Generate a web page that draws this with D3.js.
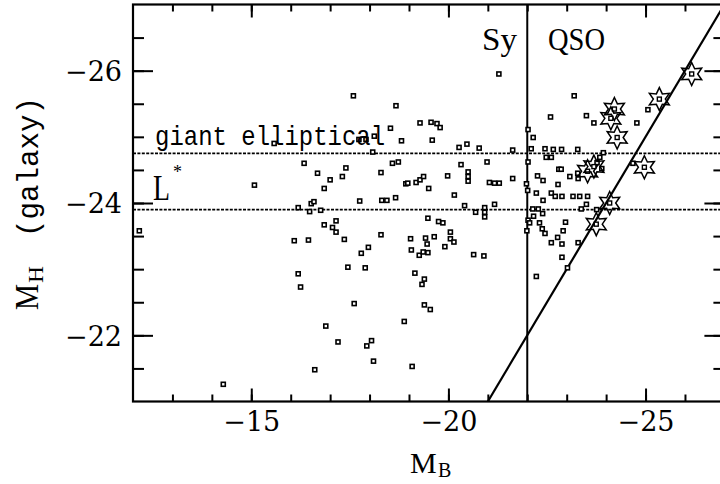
<!DOCTYPE html>
<html>
<head>
<meta charset="utf-8">
<script src="https://cdn.jsdelivr.net/npm/d3@7"></script>
<style>
  html, body { margin: 0; padding: 0; background: #fff; }
  svg { display: block; }
</style>
</head>
<body>
<svg id="chart" width="720" height="484"></svg>
<script>
// Host galaxy H-band magnitude against nuclear B magnitude
const galaxyMB = [
  -12.16, -14.29, -15.08, -15.58, -16.09, -16.19, -16.19, -16.25, -16.34, -16.45,
  -16.48, -16.52, -16.59, -16.61, -16.68, -16.76, -16.85, -16.85, -16.89, -17.00,
  -17.06, -17.15, -17.15, -17.20, -17.31, -17.40, -17.36, -17.45, -17.59, -17.61,
  -17.75, -17.73, -17.91, -18.12, -17.79, -17.97, -17.89, -18.05, -17.93, -18.10,
  -18.08, -18.29, -18.31, -18.44, -18.29, -18.53, -18.67, -18.58, -18.73, -18.66,
  -18.81, -18.88, -18.92, -18.97, -19.04, -19.06, -19.08, -19.15, -19.18, -19.28,
  -19.37, -19.26, -19.36, -19.48, -19.28, -19.39, -19.33, -19.39, -19.54, -19.42,
  -19.46, -19.50, -19.48, -19.56, -19.59, -19.64, -19.71, -19.79, -19.75, -19.86,
  -19.91, -19.98, -20.05, -20.05, -20.14, -20.15, -20.27, -20.32, -20.41, -20.47,
  -20.50, -20.50, -20.50, -20.64, -20.69, -20.78, -20.90, -20.92, -20.92, -20.92,
  -20.98, -21.04, -21.17, -21.29, -21.17, -21.28, -21.63, -21.63,
  -22.02, -22.15, -22.10, -22.02, -21.98, -22.01, -22.02, -21.99,
  -22.45, -22.66, -22.87, -23.28, -22.48, -22.61, -22.59, -23.19, -23.50, -23.69,
  -24.78, -25.06, -22.80, -22.86, -22.26, -22.40, -22.78, -23.08, -23.28, -23.29,
  -22.23, -22.61, -22.71, -22.88, -23.16, -23.33, -23.53, -22.40, -23.50, -23.37,
  -23.76, -22.14, -22.28, -22.16, -22.39, -22.06, -22.31, -22.38, -22.45, -22.97,
  -22.91, -22.77, -22.61, -22.88, -23.29, -22.88, -23.02, -22.23, -23.93, -23.84,
  -23.77, -23.89, -24.68
];
const galaxyMH = [
  -23.58, -21.26, -24.27, -24.90, -23.43, -23.93, -22.93, -22.73, -24.60, -23.44,
  -23.87, -23.99, -24.02, -21.48, -24.45, -23.89, -24.22, -23.67, -22.14, -24.35,
  -23.63, -23.56, -23.73, -21.90, -24.40, -24.53, -23.45, -23.03, -25.62, -22.48,
  -24.03, -24.96, -24.96, -25.01, -23.24, -23.33, -23.02, -21.92, -21.84, -21.61,
  -24.77, -24.46, -24.04, -24.04, -23.52, -25.13, -25.47, -24.60, -24.62, -24.08,
  -24.94, -22.21, -24.29, -24.30, -23.46, -23.29, -21.53, -22.94, -24.31, -24.35,
  -24.40, -23.21, -23.26, -23.25, -25.21, -22.85, -22.77, -22.46, -22.39, -23.47,
  -23.38, -24.22, -23.77, -25.22, -24.95, -23.49, -25.20, -25.14, -23.72, -23.70,
  -23.34, -24.41, -23.56, -23.46, -23.41, -24.12, -24.84, -24.58, -23.96, -24.89,
  -24.47, -24.40, -24.33, -23.22, -23.86, -24.83, -23.20, -23.93, -23.86, -23.79,
  -24.62, -24.31, -24.30, -24.30, -23.98, -25.95, -24.80, -24.37,
  -25.11, -24.99, -24.82, -24.62, -24.29, -24.19, -23.74, -23.58,
  -24.82, -24.81, -24.81, -24.81, -24.69, -24.69, -25.30, -25.62, -25.32, -25.21,
  -25.21, -25.41, -24.51, -24.51, -24.41, -24.34, -24.28, -24.40, -24.45, -24.37,
  -24.15, -24.15, -24.10, -24.10, -24.10, -24.10, -24.10, -24.04, -23.98, -23.91,
  -23.90, -23.91, -23.91, -23.80, -23.84, -23.70, -23.70, -23.61, -23.54, -23.71,
  -23.58, -23.48, -23.40, -23.38, -23.40, -23.18, -23.02, -22.89, -24.76, -24.69,
  -24.61, -24.52, -24.60
];

// Luminous quasars (star symbols)
const qsoMB = [-26.17, -25.35, -24.21, -24.12, -24.28, -23.53, -23.69, -24.97, -24.09, -23.75];
const qsoMH = [-25.95, -25.57, -25.42, -25.28, -24.99, -24.48, -24.55, -24.54, -24.00, -23.68];

// Reference levels
const giantEllipticalMH = -24.75;
const lStarMH = -23.9;
const seyfertQsoMB = -22;
const equalityLine = [-21, -27];

// Axis ticks
const xMinorTicks = [-13, -14, -15, -16, -17, -18, -19, -20, -21, -22, -23, -24, -25, -26];
const xMajorTicks = [-15, -20, -25];
const yMinorTicks = [-26.5, -26, -25.5, -25, -24.5, -24, -23.5, -23, -22.5, -22, -21.5];
const yMajorTicks = [-26, -24, -22];

const svg = d3.select("#chart");
const plotL = 133, plotR = 724.4, plotT = 4.5, plotB = 401.5;

const x = d3.scaleLinear().domain([-12, -27]).range([plotL, plotR]);
const y = d3.scaleLinear().domain([-27, -21]).range([plotT, plotB]);

const serif = "'Liberation Serif', 'Times New Roman', serif";
const digitFont = "'DejaVu Serif', serif";
const mono = "'Liberation Mono', 'Courier New', monospace";

svg.append("clipPath").attr("id", "plotclip")
  .append("rect").attr("x", plotL).attr("y", plotT)
  .attr("width", plotR - plotL).attr("height", plotB - plotT);

const plot = svg.append("g");

// Horizontal reference levels (dotted)
plot.selectAll("line.level")
  .data([giantEllipticalMH, lStarMH])
  .join("line")
  .attr("class", "level")
  .attr("x1", plotL).attr("x2", plotR)
  .attr("y1", d => y(d)).attr("y2", d => y(d))
  .attr("stroke", "#000").attr("stroke-width", 1.8)
  .attr("stroke-dasharray", "3,1.4");

// Seyfert / QSO division
plot.append("line")
  .attr("x1", x(seyfertQsoMB)).attr("x2", x(seyfertQsoMB))
  .attr("y1", plotT).attr("y2", plotB)
  .attr("stroke", "#000").attr("stroke-width", 2);

// M_H = M_B line
plot.append("line")
  .attr("clip-path", "url(#plotclip)")
  .attr("x1", x(equalityLine[0])).attr("y1", y(equalityLine[0]))
  .attr("x2", x(equalityLine[1])).attr("y2", y(equalityLine[1]))
  .attr("stroke", "#000").attr("stroke-width", 2.2);

// Galaxy points: small open squares
const sq = 4;
plot.append("g").selectAll("rect")
  .data(d3.range(galaxyMB.length))
  .join("rect")
  .attr("x", i => x(galaxyMB[i]) - sq / 2)
  .attr("y", i => y(galaxyMH[i]) - sq / 2)
  .attr("width", sq).attr("height", sq)
  .attr("fill", "#fff").attr("stroke", "#000").attr("stroke-width", 1.6);

// Quasars: open six-pointed stars with a square at the centre
const starOuter = 11.5, starInner = 6;
const starPts = d3.range(12).map(k => {
  const r = k % 2 === 0 ? starOuter : starInner;
  const a = -Math.PI / 2 + k * Math.PI / 6;
  return [r * Math.cos(a), r * Math.sin(a)];
});
const starPath = d3.line().curve(d3.curveLinearClosed)(starPts);

const qso = plot.append("g").selectAll("g")
  .data(d3.range(qsoMB.length))
  .join("g")
  .attr("transform", i => `translate(${x(qsoMB[i])},${y(qsoMH[i])})`);
qso.append("path").attr("d", starPath)
  .attr("fill", "none").attr("stroke", "#000").attr("stroke-width", 1.5);
qso.append("rect")
  .attr("x", -sq / 2).attr("y", -sq / 2).attr("width", sq).attr("height", sq)
  .attr("fill", "#fff").attr("stroke", "#000").attr("stroke-width", 1.4);

// Axes with inward ticks on all four sides
function styleAxis(g) {
  g.select(".domain").remove();
  g.selectAll(".tick line").attr("stroke", "#000").attr("stroke-width", 2);
}
const fmt = d3.format("d");

svg.append("g").attr("transform", `translate(0,${plotB})`)
  .call(d3.axisBottom(x).tickValues(xMinorTicks).tickSize(-7).tickFormat(""))
  .call(styleAxis);
svg.append("g").attr("transform", `translate(0,${plotB})`)
  .call(d3.axisBottom(x).tickValues(xMajorTicks).tickSize(-13).tickFormat(fmt))
  .call(styleAxis)
  .call(g => g.selectAll("text")
    .attr("y", 29.5).attr("dy", null)
    .attr("font-family", digitFont).attr("font-size", 27).attr("fill", "#000"));

svg.append("g").attr("transform", `translate(0,${plotT})`)
  .call(d3.axisTop(x).tickValues(xMinorTicks).tickSize(-7).tickFormat(""))
  .call(styleAxis);
svg.append("g").attr("transform", `translate(0,${plotT})`)
  .call(d3.axisTop(x).tickValues(xMajorTicks).tickSize(-13).tickFormat(""))
  .call(styleAxis);

svg.append("g").attr("transform", `translate(${plotL},0)`)
  .call(d3.axisLeft(y).tickValues(yMinorTicks).tickSize(-11).tickFormat(""))
  .call(styleAxis);
svg.append("g").attr("transform", `translate(${plotL},0)`)
  .call(d3.axisLeft(y).tickValues(yMajorTicks).tickSize(-20).tickFormat(fmt))
  .call(styleAxis)
  .call(g => g.selectAll("text")
    .attr("x", -11).attr("dy", "0.36em")
    .attr("font-family", digitFont).attr("font-size", 27).attr("fill", "#000"));

svg.append("g").attr("transform", `translate(${plotR},0)`)
  .call(d3.axisRight(y).tickValues(yMinorTicks).tickSize(-11).tickFormat(""))
  .call(styleAxis);
svg.append("g").attr("transform", `translate(${plotR},0)`)
  .call(d3.axisRight(y).tickValues(yMajorTicks).tickSize(-20).tickFormat(""))
  .call(styleAxis);

// Frame
svg.append("rect")
  .attr("x", plotL).attr("y", plotT)
  .attr("width", plotR - plotL).attr("height", plotB - plotT)
  .attr("fill", "none").attr("stroke", "#000").attr("stroke-width", 2.2);

// Annotations
function label(txt, px, py, font, size, len) {
  const t = svg.append("text").attr("x", px).attr("y", py)
    .attr("font-family", font).attr("font-size", size).attr("fill", "#000")
    .text(txt);
  if (len) t.attr("textLength", len).attr("lengthAdjust", "spacingAndGlyphs");
  return t;
}
label("giant elliptical", 155, 145, mono, 28, 230);
label("L", 153, 200, serif, 35, 17);
label("*", 173, 178, serif, 18);
label("Sy", 482, 50, serif, 32, 35);
label("QSO", 548, 50, serif, 32, 57);

// x-axis title: M_B
label("M", 410, 473, serif, 30);
label("B", 438, 477, serif, 20);

// y-axis title: M_H (galaxy)
const yt = svg.append("g").attr("transform", "translate(38,310) rotate(-90)");
yt.append("text").attr("x", 0).attr("y", 0)
  .attr("font-family", serif).attr("font-size", 34)
  .attr("textLength", 26).attr("lengthAdjust", "spacingAndGlyphs").text("M");
yt.append("text").attr("x", 27).attr("y", 5)
  .attr("font-family", serif).attr("font-size", 22)
  .attr("textLength", 17).attr("lengthAdjust", "spacingAndGlyphs").text("H");
yt.append("text").attr("x", 73).attr("y", 0)
  .attr("font-family", mono).attr("font-size", 29)
  .attr("textLength", 140).attr("lengthAdjust", "spacingAndGlyphs").text("(galaxy)");
</script>
</body>
</html>
